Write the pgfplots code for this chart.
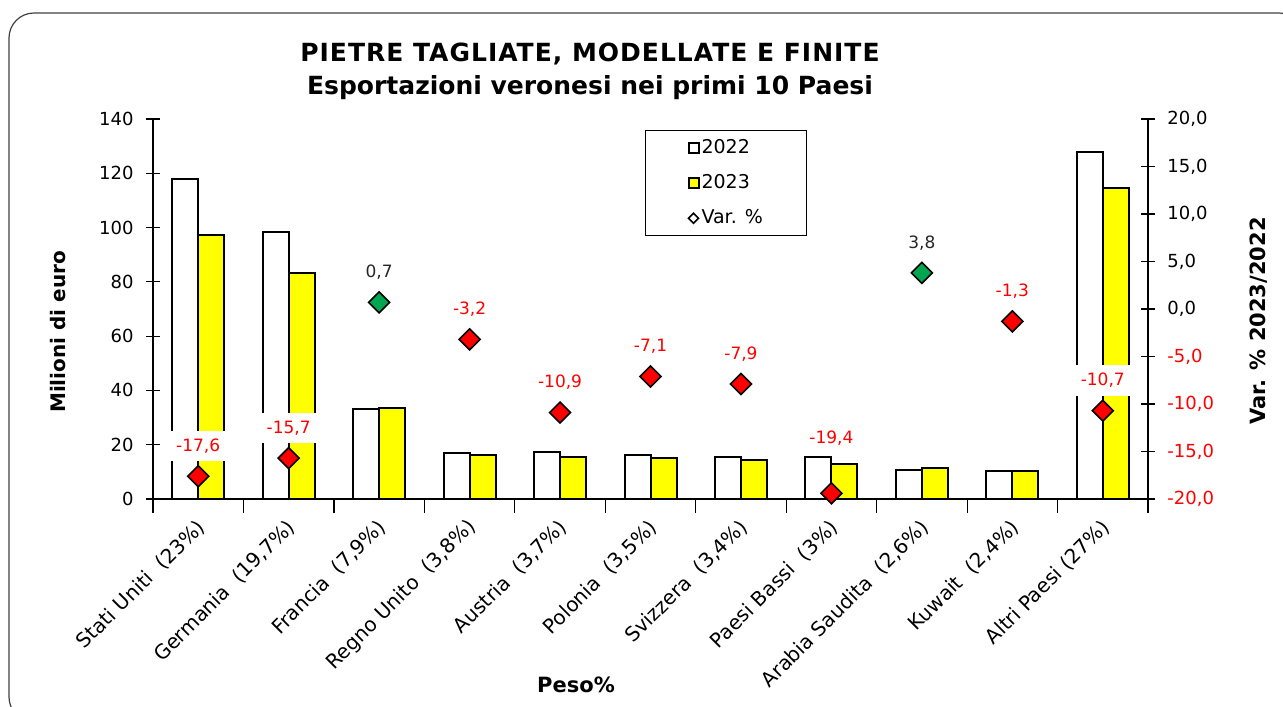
\documentclass[border=0pt]{standalone}
\usepackage{pgfplots}
\usepackage{pgfplotstable}
\pgfplotsset{compat=1.18}
\usepackage{fontspec}
\setmainfont{DejaVu Sans}
\definecolor{vgreen}{RGB}{0,166,80}
\definecolor{vred}{RGB}{255,0,0}
\definecolor{vyellow}{RGB}{255,255,0}

\pgfplotstableread{
x y22 y23
0 118.0 97.3
1 98.5 83.2
2 33.2 33.4
3 17.0 16.3
4 17.4 15.5
5 16.2 15.0
6 15.6 14.4
7 15.6 12.9
8 10.7 11.3
9 10.3 10.3
10 127.9 114.6
}\bars

\pgfplotstableread{
x v lab
0 -17.6 -17,6
1 -15.7 -15,7
3 -3.2 -3,2
4 -10.9 -10,9
5 -7.1 -7,1
6 -7.9 -7,9
9 -1.3 -1,3
10 -10.7 -10,7
}\varneg

\pgfplotstableread{
x v lab
7 -19.4 -19,4
}\varnegb

\pgfplotstableread{
x v lab
2 0.7 0,7
8 3.8 3,8
}\varpos

\begin{document}
\begin{tikzpicture}[font=\fontsize{9}{11}\selectfont]
\useasboundingbox (0,0) rectangle (641.5pt,353pt);
\draw[rounded corners=12.5pt, color=black!75, line width=0.6pt] (4.5pt,346.5pt) rectangle (652pt,-8pt);

\begin{axis}[
  at={(76.5pt,103.5pt)}, anchor=south west,
  scale only axis, width=497.5pt, height=190pt,
  xmin=-0.5, xmax=10.5, ymin=0, ymax=140,
  axis lines*=left,
  axis line style={line width=0.6pt},
  tick align=center,
  major tick length=7pt, minor tick length=7pt,
  tick style={line width=0.6pt, color=black},
  ytick={0,20,...,140},
  xtick={0,...,10},
  major x tick style={draw=none},
  minor xtick={-0.5,0.5,...,10.5},
  xticklabels={{Stati Uniti\ \ (23\%)}, {Germania\ \ (19,7\%)}, {Francia\ \ (7,9\%)}, {Regno Unito\ \ (3,8\%)}, {Austria\ \ (3,7\%)}, {Polonia\ \ (3,5\%)}, {Svizzera\ \ (3,4\%)}, {Paesi Bassi\ \ (3\%)}, {Arabia Saudita\ \ (2,6\%)}, {Kuwait\ \ (2,4\%)}, {Altri Paesi (27\%)}},
  xticklabel style={xshift=1.8pt, yshift=-5.4pt, rotate=45, anchor=east, inner sep=0pt, font=\fontsize{10}{12}\selectfont},
  yticklabel style={/pgf/number format/assume math mode=true, font=\fontsize{9}{11}\selectfont, anchor=east, inner sep=0pt, xshift=-6pt},
  ybar=0pt, bar width=13pt,
  clip=false,
]
\addplot[fill=white, draw=black, line width=1pt] table[x=x,y=y22]{\bars};
\addplot[fill=vyellow, draw=black, line width=1pt] table[x=x,y=y23]{\bars};
\end{axis}

\begin{axis}[
  at={(76.5pt,103.5pt)}, anchor=south west,
  scale only axis, width=497.5pt, height=190pt,
  xmin=-0.5, xmax=10.5, ymin=-20, ymax=20,
  axis y line*=right, axis x line=none,
  axis line style={line width=0.6pt},
  tick align=center,
  major tick length=7pt,
  tick style={line width=0.6pt, color=black},
  ytick={-20,-15,...,20},
  yticklabels={{\textcolor{vred}{-20,0}},{\textcolor{vred}{-15,0}},{\textcolor{vred}{-10,0}},{\textcolor{vred}{-5,0}},{0,0},{5,0},{10,0},{15,0},{20,0}},
  yticklabel style={font=\fontsize{9}{11}\selectfont, anchor=west, inner sep=0pt, xshift=6pt},
  clip=false,
  legend style={at={(0.4945,0.971)}, anchor=north west, draw=black, line width=0.5pt,
    font=\fontsize{9.5}{11}\selectfont, inner xsep=21pt, inner ysep=2.5pt, row sep=5pt,
    nodes={inner xsep=1pt}},
  legend cell align=left,
]
\addlegendimage{legend image code/.code={\draw[fill=white,draw=black,line width=1pt] (0pt,-2.5pt) rectangle (5pt,2.5pt);}}
\addlegendentry{2022}
\addlegendimage{legend image code/.code={\draw[fill=vyellow,draw=black,line width=1pt] (0pt,-2.5pt) rectangle (5pt,2.5pt);}}
\addlegendentry{2023}
\addlegendimage{legend image code/.code={\draw[fill=white,draw=black,line width=0.8pt] (0pt,0pt)--(2.5pt,2.5pt)--(5pt,0pt)--(2.5pt,-2.5pt)--cycle;}}
\addlegendentry{Var. \%}

\addplot[forget plot, only marks, mark=square*, mark size=3.7pt,
  mark options={rotate=45, fill=vred, draw=black, line width=0.8pt},
  nodes near coords, point meta=explicit symbolic,
  every node near coord/.append style={anchor=center, yshift=15pt, fill=white, text=vred,
    inner xsep=3pt, inner ysep=4pt, font=\fontsize{8.5}{10}\selectfont}]
  table[x=x, y=v, meta=lab]{\varneg};
\addplot[forget plot, only marks, mark=square*, mark size=3.7pt,
  mark options={rotate=45, fill=vred, draw=black, line width=0.8pt},
  nodes near coords, point meta=explicit symbolic,
  every node near coord/.append style={anchor=center, yshift=27.5pt, text=vred,
    inner xsep=3pt, inner ysep=4pt, font=\fontsize{8.5}{10}\selectfont}]
  table[x=x, y=v, meta=lab]{\varnegb};
\addplot[forget plot, only marks, mark=square*, mark size=3.7pt,
  mark options={rotate=45, fill=vgreen, draw=black, line width=0.8pt},
  nodes near coords, point meta=explicit symbolic,
  every node near coord/.append style={anchor=center, yshift=15pt, text=black!85,
    inner xsep=3pt, inner ysep=4pt, font=\fontsize{8.5}{10}\selectfont}]
  table[x=x, y=v, meta=lab]{\varpos};
\end{axis}

\node[anchor=base, font=\bfseries\fontsize{12.5}{14}\selectfont] at (295pt,322pt) {\addfontfeature{LetterSpace=4}PIETRE TAGLIATE, MODELLATE E FINITE};
\node[anchor=base, font=\bfseries\fontsize{12.5}{14}\selectfont] at (295pt,305.5pt) {Esportazioni veronesi nei primi 10 Paesi};
\node[rotate=90, font=\bfseries\fontsize{10}{12}\selectfont] at (29pt,187pt) {Milioni di euro};
\node[rotate=90, font=\bfseries\fontsize{10.5}{12}\selectfont] at (629.5pt,192.5pt) {Var. \% 2023/2022};
\node[anchor=base, font=\bfseries\fontsize{10.5}{12}\selectfont] at (288pt,7pt) {Peso\%};
\end{tikzpicture}
\end{document}
